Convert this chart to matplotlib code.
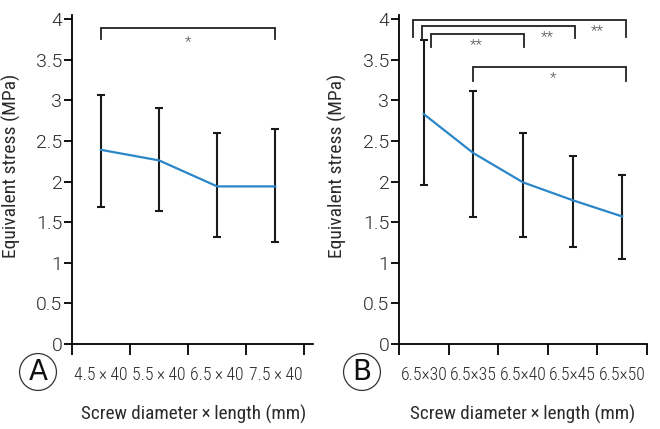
import matplotlib
matplotlib.use("Agg")
import matplotlib.pyplot as plt

plt.rcParams["font.family"] = ["Roboto Condensed", "DejaVu Sans"]
plt.rcParams["font.weight"] = 300

# panel A data
labels_a = ["4.5\u2009\u00d7\u200940", "5.5\u2009\u00d7\u200940", "6.5\u2009\u00d7\u200940", "7.5\u2009\u00d7\u200940"]
mean_a = [2.39, 2.26, 1.94, 1.94]
upper_a = [3.07, 2.91, 2.60, 2.65]
lower_a = [1.69, 1.64, 1.32, 1.25]

# panel B data
labels_b = ["6.5\u00d730", "6.5\u00d735", "6.5\u00d740", "6.5\u00d745", "6.5\u00d750"]
mean_b = [2.83, 2.35, 1.99, 1.77, 1.57]
upper_b = [3.74, 3.12, 2.60, 2.32, 2.08]
lower_b = [1.96, 1.56, 1.32, 1.20, 1.05]

ytick_vals = [0, 0.5, 1, 1.5, 2, 2.5, 3, 3.5, 4]
ytick_labels = ["0", "0.5", "1", "1.5", "2", "2.5", "3", "3.5", "4"]

# significance brackets: (x_left, x_right, top, left leg end, right leg end, mark, mark x, mark y)
brackets_a = [(0.5, 3.5, 3.89, 3.76, 3.76, "*", 2.0, 3.72)]
brackets_b = [
    (0.28, 4.57, 3.99, 3.78, 3.78, "**", 4.0, 3.85),
    (0.47, 3.54, 3.91, 3.74, 3.77, "**", 3.0, 3.78),
    (0.64, 2.52, 3.82, 3.65, 3.65, "**", 1.55, 3.68),
    (1.50, 4.57, 3.41, 3.24, 3.24, "*", 3.1, 3.27),
]

blue = "#2a86c8"
txt = "#2b2b2b"

fig = plt.figure(figsize=(6.6, 4.29), dpi=100)
ax_a = fig.add_axes([72 / 660, 1 - 344 / 429, 241 / 660, 329 / 429])
ax_b = fig.add_axes([399 / 660, 1 - 344 / 429, 248 / 660, 329 / 429])


def draw_panel(ax, labels, mean, upper, lower, brackets, xmax, nticks, xlab_x):
    pos = [i + 0.5 for i in range(len(labels))]
    err = [[m - lo for m, lo in zip(mean, lower)], [u - m for m, u in zip(mean, upper)]]
    ax.plot(pos, mean, color=blue, lw=1.6, zorder=3)
    ax.errorbar(pos, mean, yerr=err, fmt="none", ecolor="#1a1a1a", elinewidth=1.5,
                capsize=3.2, capthick=1.5, zorder=2)

    for xl, xr, top, bl, br, s, tx, ty in brackets:
        ax.plot([xl, xl, xr, xr], [bl, top, top, br], color="#222222", lw=1.3,
                solid_joinstyle="miter", clip_on=False)
        ax.text(tx, ty, s, ha="center", va="center", fontsize=11, color="#555555")

    ax.set_xlim(0, xmax)
    ax.set_ylim(0, 4.05)
    ax.set_yticks(ytick_vals)
    ax.set_yticklabels(ytick_labels)
    ax.set_xticks(range(nticks))
    ax.set_xticklabels([])
    ax.set_xticks(pos, minor=True)
    ax.set_xticklabels(labels, minor=True)
    ax.tick_params(axis="x", which="major", length=8, width=1.3, direction="out")
    ax.tick_params(axis="x", which="minor", length=0, pad=16, labelsize=12.8, labelcolor=txt)
    ax.tick_params(axis="y", length=6, width=1.3, pad=1, labelsize=14, labelcolor=txt)
    for lbl in ax.get_yticklabels():
        lbl.set_fontfamily(["Roboto", "DejaVu Sans"])
        lbl.set_fontweight(300)
    for side in ["top", "right"]:
        ax.spines[side].set_visible(False)
    for side in ["left", "bottom"]:
        ax.spines[side].set_linewidth(1.3)

    ax.set_ylabel("Equivalent stress (MPa)", fontsize=14, color=txt)
    ax.yaxis.set_label_coords(-0.21, 0.54)
    ax.set_xlabel("Screw diameter\u2009\u00d7\u2009length (mm)", fontsize=13.8, color=txt)
    ax.xaxis.set_label_coords(xlab_x, -0.185)


draw_panel(ax_a, labels_a, mean_a, upper_a, lower_a, brackets_a, 4.15, 5, 0.506)
draw_panel(ax_b, labels_b, mean_b, upper_b, lower_b, brackets_b, 5.0, 6, 0.5)

# circled panel letters
for cx, letter in [(38, "A"), (362, "B")]:
    fig.text(cx / 660, 1 - 372 / 429, letter, ha="center", va="center", fontsize=20,
             family="DejaVu Sans", color="#111111",
             bbox=dict(boxstyle="circle,pad=0.16", fc="white", ec="#333333", lw=0.9))

fig.savefig("out.png", dpi=100)
